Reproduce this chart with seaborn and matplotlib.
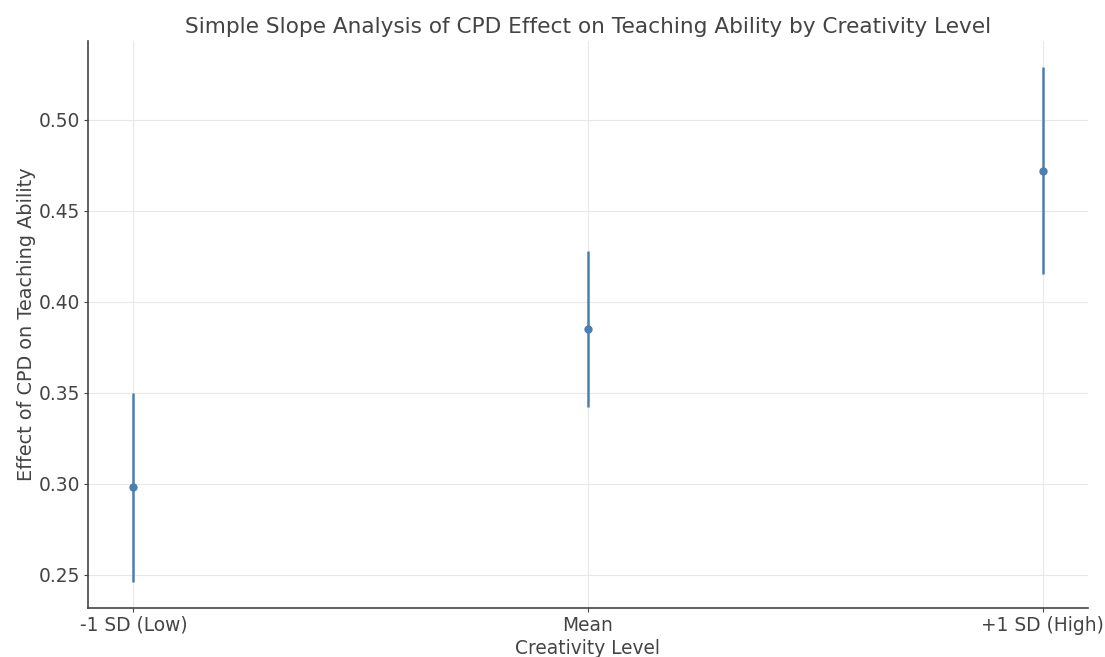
import matplotlib
matplotlib.use("Agg")
import matplotlib.pyplot as plt
import seaborn as sns
import pandas as pd

categories = ["-1 SD (Low)", "Mean", "+1 SD (High)"]
effects = [0.298, 0.385, 0.472]
ci_lower = [0.246, 0.342, 0.415]
ci_upper = [0.350, 0.428, 0.529]

sns.set_theme(style="whitegrid")
plt.rcParams['font.family'] = ['DejaVu Sans']
text_color = "#444444"
plt.rcParams.update({
    "text.color": text_color,
    "axes.labelcolor": text_color,
    "xtick.color": text_color,
    "ytick.color": text_color,
})

df = pd.DataFrame({"level": categories, "effect": effects})
color = "#4a7fb0"

fig, ax = plt.subplots(figsize=(11.05, 6.57), dpi=100)
fig.subplots_adjust(left=0.0796, right=0.9846, top=0.9376, bottom=0.0746)

yerr = [[e - l for e, l in zip(effects, ci_lower)], [u - e for e, u in zip(effects, ci_upper)]]
ax.errorbar(categories, effects, yerr=yerr, fmt="none", ecolor=color, elinewidth=1.8, capsize=0, zorder=2)
sns.scatterplot(data=df, x="level", y="effect", ax=ax, color=color, s=36, edgecolor=color, linewidth=0, zorder=3)

ax.set_xlim(-0.1, 2.1)
ax.set_ylim(0.2318, 0.5432)
ax.set_yticks([0.25, 0.30, 0.35, 0.40, 0.45, 0.50])
ax.yaxis.set_major_formatter(matplotlib.ticker.FormatStrFormatter("%.2f"))

ax.set_title("Simple Slope Analysis of CPD Effect on Teaching Ability by Creativity Level", fontsize=15.6, color=text_color, pad=6)
ax.set_xlabel("Creativity Level", fontsize=13.4, color=text_color, labelpad=3)
ax.set_ylabel("Effect of CPD on Teaching Ability", fontsize=13.9, color=text_color, labelpad=2)
ax.tick_params(axis="both", labelsize=13.4, length=3, width=0.8, pad=2.5, direction="out", left=True, bottom=True, color=text_color)

ax.grid(True, color="#e8e8e8", linewidth=0.8)
for side in ["top", "right"]:
    ax.spines[side].set_visible(False)
for side in ["left", "bottom"]:
    ax.spines[side].set_color(text_color)
    ax.spines[side].set_linewidth(1.2)

fig.savefig("out.png", dpi=100)
